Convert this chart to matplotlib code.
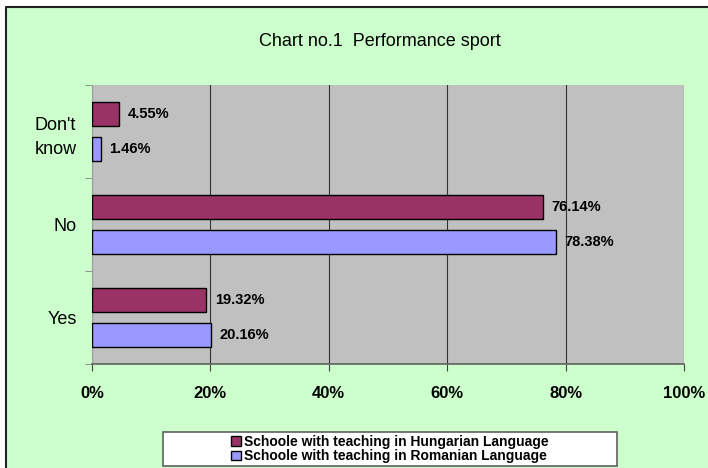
import matplotlib
matplotlib.use("Agg")
import matplotlib.pyplot as plt
from matplotlib.patches import Rectangle
from matplotlib.lines import Line2D
import numpy as np

plt.rcParams['font.family'] = ['Liberation Sans', 'DejaVu Sans']

categories = ["Yes", "No", "Don't\nknow"]
hungarian = [19.32, 76.14, 4.55]
romanian = [20.16, 78.38, 1.46]
series_names = ["Schoole with teaching in Hungarian Language",
                "Schoole with teaching in Romanian Language"]
xticks = [0, 20, 40, 60, 80, 100]
xtick_labels = ["0%", "20%", "40%", "60%", "80%", "100%"]

fig = plt.figure(figsize=(7.08, 4.68), dpi=100, facecolor='white')

# green chart area, border only visible on top and left
x0 = 6/708
y1 = 1 - 7/468
bg = Rectangle((x0, 0), 1 - x0, y1, transform=fig.transFigure,
               facecolor='#CCFFCC', edgecolor='none', zorder=-10)
fig.patches.append(bg)
fig.add_artist(Line2D([x0, x0, 1], [0, y1, y1], transform=fig.transFigure,
                      color='#222222', linewidth=1.5, zorder=-9))

ax = fig.add_axes([92/708, 1 - 364/468, (684 - 92)/708, (364 - 85)/468])
ax.set_facecolor('#C0C0C0')

y = np.arange(len(categories))
h = 0.26
off = 0.19
b1 = ax.barh(y + off, hungarian, height=h, color='#993366', edgecolor='black', linewidth=1, zorder=3)
b2 = ax.barh(y - off, romanian, height=h, color='#9999FF', edgecolor='black', linewidth=1, zorder=3)

for bars, vals in ((b1, hungarian), (b2, romanian)):
    for b, v in zip(bars, vals):
        ax.annotate(f"{v:.2f}%", (v, b.get_y() + b.get_height()/2), xytext=(6, 0),
                    textcoords='offset points', va='center', ha='left',
                    fontsize=10.5, fontweight='bold', zorder=4)

ax.set_xlim(0, 100)
ax.set_ylim(-0.5, 2.5)
ax.set_xticks(xticks)
ax.set_xticklabels(xtick_labels, fontsize=12, fontweight='bold')
ax.set_yticks(y)
ax.set_yticklabels(categories, fontsize=13, ha='right', multialignment='center', linespacing=1.55)
ax.set_yticks([-0.5, 0.5, 1.5, 2.5], minor=True)
ax.tick_params(axis='y', which='major', length=0, pad=11)
ax.tick_params(axis='y', which='minor', length=5, color='#808080')
ax.tick_params(axis='x', length=5, pad=11, color='#404040')
ax.grid(axis='x', color='#333333', linewidth=0.8, zorder=1)
for s in ['top', 'right']:
    ax.spines[s].set_visible(False)
ax.spines['left'].set_color('#A0A0A0')
ax.spines['bottom'].set_color('#606060')
ax.spines['bottom'].set_linewidth(1.2)

fig.text(380/708, 1 - 42/468, "Chart no.1  Performance sport", ha='center', va='center', fontsize=13)

# legend box
lbox = Rectangle((163/708, 1 - 466/468), (617 - 163)/708, 34/468, transform=fig.transFigure,
                 facecolor='white', edgecolor='#606060', linewidth=1.2, zorder=5)
fig.patches.append(lbox)
leg = fig.legend([b1, b2], series_names, loc='center', bbox_to_anchor=(390/708, 1 - 449/468),
                 frameon=False, prop={'size': 10, 'weight': 'bold'}, handlelength=0.7,
                 handleheight=0.7, handletextpad=0.2, labelspacing=0.05, borderpad=0)
leg.set_zorder(6)

fig.savefig('out.png', dpi=100, facecolor=fig.get_facecolor())
